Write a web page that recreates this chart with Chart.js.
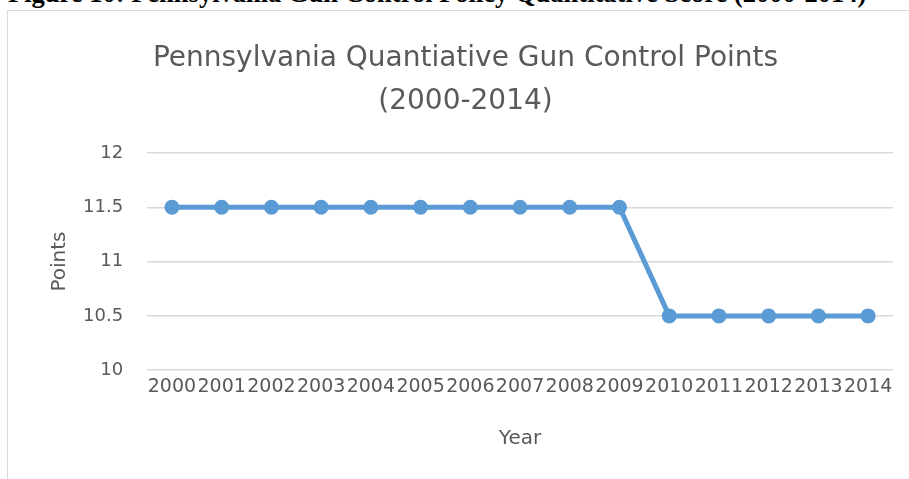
<!DOCTYPE html>
<html>
<head>
<meta charset="utf-8">
<script src="https://cdn.jsdelivr.net/npm/chart.js@4"></script>
<style>
  html, body { margin: 0; padding: 0; background: #fff; width: 909px; height: 479px; overflow: hidden; position: relative; }
  #heading { position: absolute; left: 8px; top: -20px; font: bold 26.5px "Liberation Serif", serif; line-height: 26.5px; color: #000; white-space: nowrap; }
  #frame { position: absolute; left: 7px; top: 10px; width: 902px; height: 469px; border-left: 1px solid #d9d9d9; border-top: 1px solid #d9d9d9; box-sizing: border-box; }
  #wrap { position: absolute; left: 0px; top: 0px; width: 901px; height: 468px; }
</style>
</head>
<body>
<div id="heading">Figure 10: Pennsylvania Gun Control Policy Quantitative Score (2000-2014)</div>
<div id="frame"><div id="wrap"><canvas id="c"></canvas></div></div>
<script>
const years = ["2000","2001","2002","2003","2004","2005","2006","2007","2008","2009","2010","2011","2012","2013","2014"];
const points = [11.5,11.5,11.5,11.5,11.5,11.5,11.5,11.5,11.5,11.5,10.5,10.5,10.5,10.5,10.5];
const yTickLabels = ["10","10.5","11","11.5","12"];
const titleLines = ["Pennsylvania Quantiative Gun Control Points", "(2000-2014)"];
const yTitle = "Points";
const xTitle = "Year";

const gray = "#595959";
const FONT = "'DejaVu Sans'";
new Chart(document.getElementById("c"), {
  type: "line",
  data: {
    labels: years,
    datasets: [{
      data: points,
      borderColor: "#5b9bd5",
      backgroundColor: "#5b9bd5",
      borderWidth: 5,
      pointRadius: 7.5,
      pointHoverRadius: 7.5,
      pointBorderWidth: 0,
      tension: 0
    }]
  },
  options: {
    responsive: true,
    maintainAspectRatio: false,
    animation: false,
    layout: { padding: { left: 30, right: 16, top: 0, bottom: 28 } },
    plugins: {
      legend: { display: false },
      tooltip: { enabled: false },
      title: {
        display: true,
        text: titleLines,
        color: gray,
        font: { family: FONT, size: 28, weight: "normal", lineHeight: 1.535 },
        padding: { top: 26, bottom: 30 }
      }
    },
    scales: {
      x: {
        offset: true,
        grid: { display: false, drawTicks: false },
        border: { display: false },
        ticks: { color: gray, autoSkip: false, maxRotation: 0, minRotation: 0, padding: 5, font: { family: FONT, size: 19 } },
        title: { display: true, text: xTitle, color: gray, font: { family: FONT, size: 20 }, padding: { top: 24, bottom: 0 } }
      },
      y: {
        min: 10, max: 12,
        afterBuildTicks: (scale) => { scale.ticks = yTickLabels.map(v => ({ value: parseFloat(v) })); },
        grid: { color: "#d9d9d9", lineWidth: 1.5, drawTicks: false },
        border: { display: false },
        ticks: { color: gray, padding: 24, font: { family: FONT, size: 18 }, callback: (v, i) => yTickLabels[i] },
        title: { display: true, text: yTitle, color: gray, font: { family: FONT, size: 20 }, padding: { top: 10, bottom: -13 } }
      }
    }
  }
});
</script>
</body>
</html>
